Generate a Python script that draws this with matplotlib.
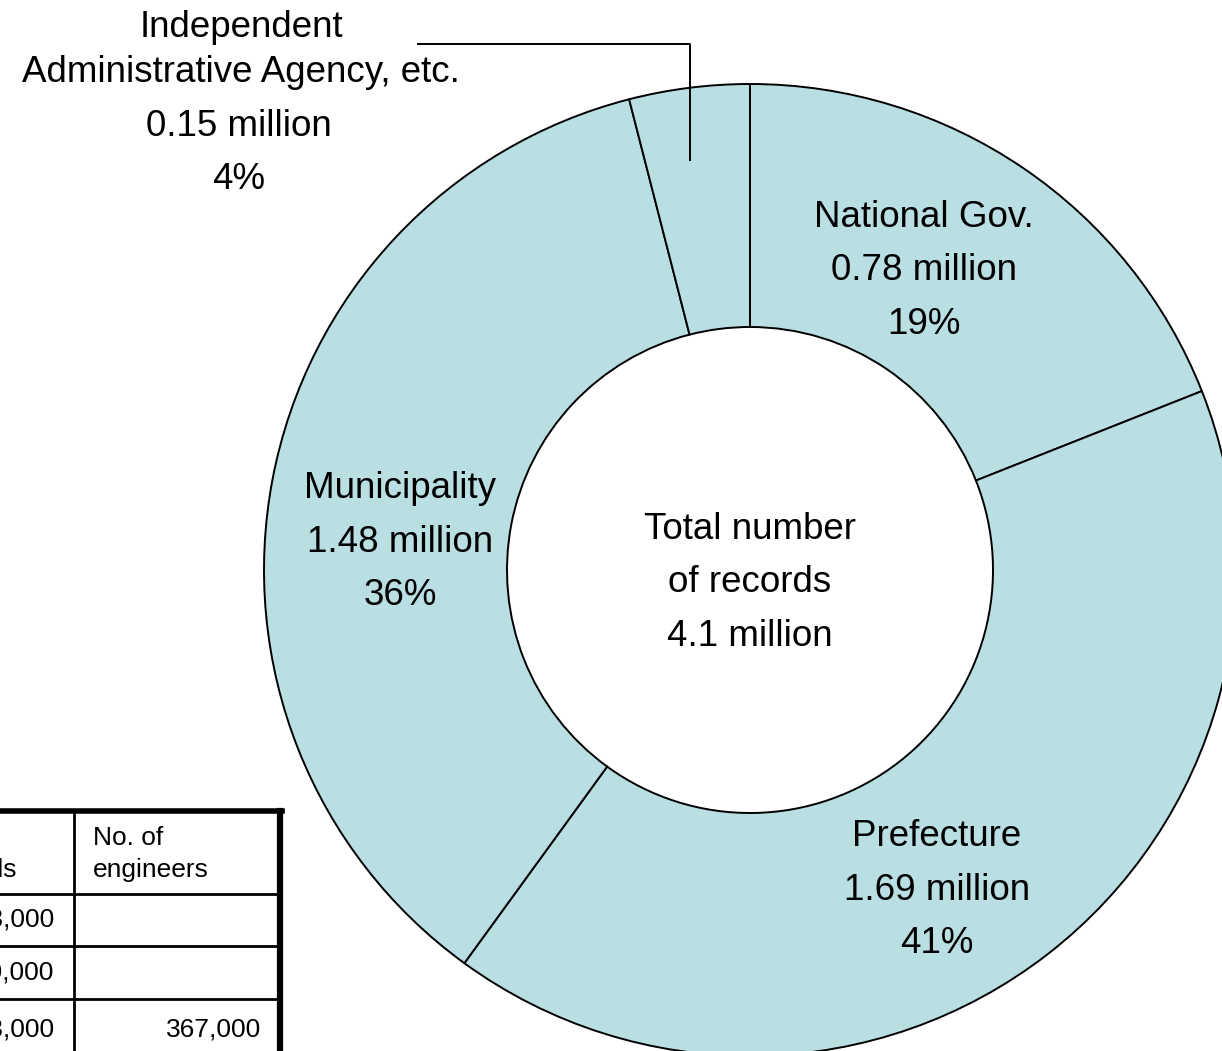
import numpy as np
import matplotlib.pyplot as plt

plt.rcParams['font.family'] = ['Liberation Sans', 'DejaVu Sans']

# slice data (clockwise from top)
categories = ['National Gov.', 'Prefecture', 'Municipality',
              'Independent\nAdministrative Agency, etc.']
records = [0.78, 1.69, 1.48, 0.15]     # million
shares = [19, 41, 36, 4]              # %
total_records = 4.1

# partial table in the lower left corner
table_header = ['No. of\nindividuals', 'No. of\nengineers']
table_records = ['1,823,000', '2,280,000', '4,103,000']
table_engineers = ['', '', '367,000']

W, H = 1222, 1051
fig = plt.figure(figsize=(W / 100, H / 100), dpi=100)
ax = fig.add_axes([0, 0, 1, 1])


def py(y):
    # pixel row (top-down) -> data y
    return H - y


cx, cy = 750, py(570)
r_out, r_in = 486, 243
fill = '#B9DFE3'

# wedges follow the printed percentages
ax.pie(shares, colors=[fill] * len(shares), startangle=90, counterclock=False,
       center=(cx, cy), radius=r_out,
       wedgeprops=dict(width=r_out - r_in, edgecolor='black', linewidth=1.4))
ax.set_aspect('auto')
ax.set_xlim(0, W)
ax.set_ylim(0, H)
ax.axis('off')

fs = 26.5
lab = dict(fontsize=fs, ha='center', va='center', linespacing=1.70)

ax.text(924, py(271), f'{categories[0]}\n{records[0]:.2f} million\n{shares[0]}%', **lab)
ax.text(937, py(890), f'{categories[1]}\n{records[1]:.2f} million\n{shares[1]}%', **lab)
ax.text(400, py(542), f'{categories[2]}\n{records[2]:.2f} million\n{shares[2]}%', **lab)
ax.text(750, py(583), f'Total number\nof records\n{total_records} million', **lab)
ax.text(241, py(50), categories[3], fontsize=fs, ha='center', va='center',
        linespacing=1.40)
ax.text(239, py(153), f'{records[3]:.2f} million\n{shares[3]}%', fontsize=fs,
        ha='center', va='center', linespacing=1.66)

# leader line for the small slice
ax.plot([690, 690, 418], [py(160), py(44), py(44)], color='black', lw=1.4)

# table (cut off by the figure edge)
col_x = [-130, 74, 280]
row_y = [811, 894, 946, 999, 1060]
for y in row_y[1:-1]:
    ax.plot([col_x[0], col_x[-1]], [py(y), py(y)], color='black', lw=2)
ax.plot([col_x[1], col_x[1]], [py(row_y[0]), py(row_y[-1])], color='black', lw=2)
ax.plot([col_x[0], col_x[-1] + 2], [py(row_y[0]), py(row_y[0])], color='black', lw=4)
ax.plot([col_x[-1], col_x[-1]], [py(row_y[0]), py(row_y[-1])], color='black', lw=4.5)

tfs = 19
ax.text(17, py(854), table_header[0], fontsize=tfs, ha='right', va='center',
        multialignment='left', linespacing=1.45)
ax.text(93, py(854), table_header[1], fontsize=tfs, ha='left', va='center',
        linespacing=1.45)
for i in range(len(table_records)):
    ymid = py((row_y[i + 1] + row_y[i + 2]) / 2)
    ax.text(54, ymid, table_records[i], fontsize=tfs, ha='right', va='center')
    ax.text(261, ymid, table_engineers[i], fontsize=tfs, ha='right', va='center')

fig.savefig('out.png', dpi=100)
